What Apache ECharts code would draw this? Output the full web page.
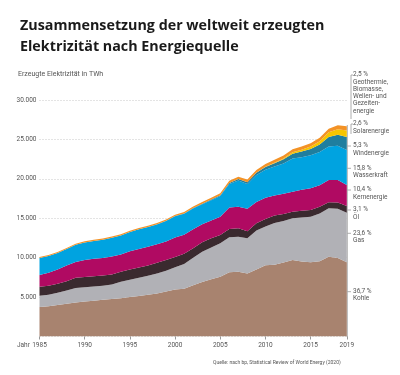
<!DOCTYPE html>
<html><head><meta charset="utf-8">
<script src="https://cdn.jsdelivr.net/npm/echarts@6/dist/echarts.min.js"></script>
<style>html,body{margin:0;padding:0;background:#fff}#c{width:400px;height:375px}</style>
</head><body><div id="c"></div>
<script>
const years = [];
for (let y = 1985; y <= 2019; y++) years.push(String(y));

const coal = [3750,3850,4000,4150,4300,4450,4550,4650,4750,4850,5000,5150,5300,5450,5700,5950,6050,6500,6900,7250,7590,8150,8200,8000,8500,9050,9100,9400,9700,9500,9410,9550,10120,9950,9410];
const gas = [1430,1450,1550,1700,1850,1800,1800,1800,1850,2100,2200,2300,2400,2550,2650,2850,3150,3500,3850,4050,4230,4450,4450,4450,4950,4900,5300,5250,5290,5600,5790,6050,6140,6250,6300];
const oil = [1120,1150,1150,1150,1300,1300,1300,1300,1250,1250,1300,1300,1300,1350,1350,1300,1300,1200,1200,1150,1060,1050,1070,900,900,950,950,900,840,850,850,850,760,800,840];
const nuclear = [1500,1650,1800,2000,2000,2150,2200,2200,2300,2200,2300,2350,2400,2350,2350,2450,2400,2400,2300,2250,2320,2700,2730,2850,2700,2700,2550,2550,2540,2650,2750,2750,2830,2850,2670];
const hydro = [2150,2100,2100,2090,2190,2230,2270,2320,2370,2410,2440,2490,2480,2520,2610,2690,2670,2650,2520,2580,2610,2990,3350,3150,3440,3560,3650,3860,4200,4150,4200,4200,4250,4350,4450];
const wind = [0,0,0,0,0,5,5,5,5,5,8,10,12,16,20,30,40,50,65,85,100,130,170,220,270,340,440,520,620,710,800,960,1200,1400,1650];
const solar = [0,0,0,0,0,0,0,0,0,0,0,0,0,0,0,1,1,2,2,3,4,5,7,10,20,30,60,100,180,230,300,400,600,700,800];
const other = [130,130,130,135,135,140,140,145,145,150,155,160,165,170,175,180,190,200,215,235,260,280,300,320,340,350,360,370,380,400,420,440,460,500,550];

const seriesNames = ['Kohle','Gas','Öl','Kernenergie','Wasserkraft','Windenergie','Solarenergie','Sonstige'];
const seriesData = [coal, gas, oil, nuclear, hydro, wind, solar, other];
const colors = ['#a8836f','#b1b1b6','#3a2a2f','#b00a62','#00a3e0','#1f7e9e','#f6c500','#f39226'];

const tickYears = ['1985','1990','1995','2000','2005','2010','2015','2019'];

const annotations = [
  {y: 75,    lines: ['2,5 %','Geothermie,','Biomasse,','Wellen- und','Gezeiten-','energie']},
  {y: 124,   lines: ['2,6 %','Solarenergie']},
  {y: 146,   lines: ['5,3 %','Windenergie']},
  {y: 168.3, lines: ['15,8 %','Wasserkraft']},
  {y: 190,   lines: ['10,4 %','Kernenergie']},
  {y: 210,   lines: ['3,1 %','Öl']},
  {y: 233.3, lines: ['23,6 %','Gas']},
  {y: 291.7, lines: ['36,7 %','Kohle']}
];

const chart = echarts.init(document.getElementById('c'), null, {renderer: 'canvas'});
const lineStyle = {stroke: '#9a9a9a', lineWidth: 0.8};
const graphics = [
  {type: 'text', left: 18, top: 71, style: {text: 'Erzeugte Elektrizität in TWh', fontSize: 7, fontFamily: 'Roboto', fill: '#555'}},
  {type: 'text', left: 17, top: 342, style: {text: 'Jahr', fontSize: 6.5, fontFamily: 'Roboto', fill: '#555'}},
  {type: 'text', left: 213, top: 360, style: {text: 'Quelle: nach bp, Statistical Review of World Energy (2020)', fontSize: 5, fontFamily: 'Roboto', fill: '#555'}},
  {type: 'line', shape: {x1: 351, y1: 75, x2: 351, y2: 119}, style: lineStyle},
  {type: 'line', shape: {x1: 351, y1: 75, x2: 353, y2: 75}, style: lineStyle},
  {type: 'line', shape: {x1: 351, y1: 124, x2: 351, y2: 134}, style: lineStyle},
  {type: 'line', shape: {x1: 351, y1: 124, x2: 353, y2: 124}, style: lineStyle},
  {type: 'line', shape: {x1: 347.3, y1: 125, x2: 347.3, y2: 337}, style: lineStyle}
];
annotations.forEach((a, i) => {
  if (i >= 2) graphics.push({type: 'line', shape: {x1: 347.3, y1: a.y, x2: 351, y2: a.y}, style: lineStyle});
  graphics.push({type: 'text', left: 353, top: a.y - 4, style: {text: a.lines.join('\n'), fontSize: 6.5, lineHeight: 7.3, fontFamily: 'Roboto', fill: '#555'}});
});

chart.setOption({
  animation: false,
  title: {
    text: 'Zusammensetzung der weltweit erzeugten\nElektrizität nach Energiequelle',
    left: 15, top: 10,
    textStyle: {fontSize: 14.3, fontWeight: 'bold', lineHeight: 21, color: '#1a1a1a', fontFamily: 'Open Sans'}
  },
  grid: {left: 39.5, right: 53.2, top: 100, bottom: 38.5},
  xAxis: {
    type: 'category', data: years, boundaryGap: false,
    axisLine: {show: false},
    axisTick: {show: true, length: 3, lineStyle: {color: '#999'}, interval: (i, v) => tickYears.includes(v)},
    axisLabel: {interval: (i, v) => tickYears.includes(v), fontSize: 6.5, color: '#555', margin: 5, fontFamily: 'Roboto'}
  },
  yAxis: {
    type: 'value', min: 0, max: 30000, interval: 5000,
    axisLine: {show: false}, axisTick: {show: false},
    splitLine: {show: true, lineStyle: {color: '#bbb', type: [1, 2], width: 0.8}},
    axisLabel: {fontSize: 6.5, color: '#555', margin: 3, fontFamily: 'Roboto',
      formatter: v => v === 0 ? '' : String(v).replace(/\B(?=(\d{3})+(?!\d))/g, '.')}
  },
  series: seriesNames.map((n, i) => ({
    name: n, type: 'line', stack: 'total', data: seriesData[i],
    symbol: 'none', lineStyle: {width: 0}, areaStyle: {color: colors[i], opacity: 1},
    itemStyle: {color: colors[i]}, z: 2
  })),
  graphic: graphics
});
</script>
</body></html>
